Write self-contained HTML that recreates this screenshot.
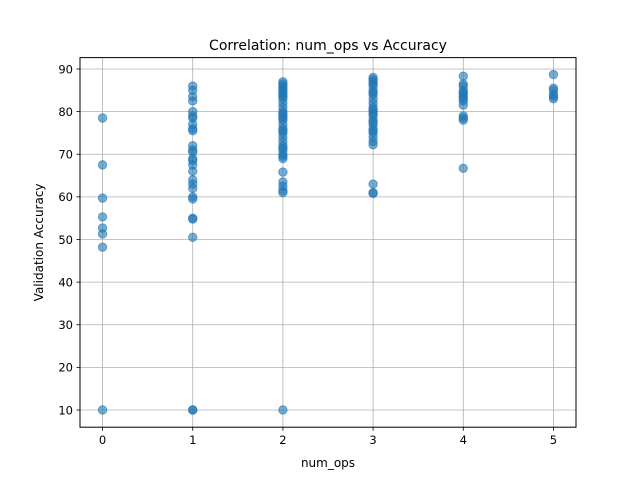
<!DOCTYPE html>
<html><head><meta charset="utf-8"><style>body{margin:0;background:#fff}svg{font-family:"DejaVu Sans","Liberation Sans",sans-serif}</style></head>
<body>
<svg id="chart" width="640" height="480" viewBox="0 0 640 480" xmlns="http://www.w3.org/2000/svg">
<rect width="640" height="480" fill="#fff"/>
<g id="grid"></g>
<g id="points"></g>
<rect x="80" y="57.6" width="496" height="369.6" fill="none" stroke="#000" stroke-width="1"/>
<g id="ticks" font-size="11.5" fill="#000"></g>
<text x="328" y="50" text-anchor="middle" font-size="14">Correlation: num_ops vs Accuracy</text>
<text x="328" y="467" text-anchor="middle" font-size="12">num_ops</text>
<text transform="translate(43,242.4) rotate(-90)" text-anchor="middle" font-size="12">Validation Accuracy</text>
</svg>
<script>
const xTicks=[0,1,2,3,4,5];
const yTicks=[10,20,30,40,50,60,70,80,90];
const ops0=[78.5,67.5,59.7,55.3,52.7,51.3,48.2,10];
const ops1=[86,85,83.5,82.5,80,79,78.5,77,76,75.5,72,71,70.5,69,68.5,67.5,66,64,63,62,60,59.5,55,54.8,50.5,10,10];
const ops2=[87,86.5,86,85.5,85,84.5,84,83.5,83,82,81,80,79.5,79,78.5,78,77,76,75.5,75,74,73,72,71.5,71,70,69.5,69,65.8,63.5,62.5,61.5,61,10];
const ops3=[88,87.5,87,86.5,86,85,84.5,84,83,82,81,80.5,80,79.5,79,78,77.5,77,76,75.5,75,74,73,72.2,63,61,60.8];
const ops4=[88.3,86.5,86,85,84.5,84,83.5,83,82.5,81.5,79,78.5,78,66.7];
const ops5=[88.7,85.5,85,84,83.5,83];
const series=[ops0,ops1,ops2,ops3,ops4,ops5];
const NS="http://www.w3.org/2000/svg";
const L=80,R=576,T=57.6,B=427.2;
const xMin=-0.25,xMax=5.25,yMin=5.96,yMax=92.67;
const sx=v=>L+(v-xMin)/(xMax-xMin)*(R-L);
const sy=v=>B-(v-yMin)/(yMax-yMin)*(B-T);
function mk(tag,attrs,parent){const e=document.createElementNS(NS,tag);for(const k in attrs)e.setAttribute(k,attrs[k]);parent.appendChild(e);return e;}
const grid=document.getElementById('grid'),ticks=document.getElementById('ticks'),pts=document.getElementById('points');
xTicks.forEach(t=>{const x=sx(t);
 const g=mk('line',{x1:x,x2:x,y1:T,y2:B,stroke:'#b0b0b0','stroke-width':0.8},grid);
 
 
 mk('line',{x1:x,x2:x,y1:B,y2:B+3.5,stroke:'#000','stroke-width':0.8},ticks);
 const tx=mk('text',{x:x,y:B+17,'text-anchor':'middle'},ticks);tx.textContent=t;
 
 
});
yTicks.forEach(t=>{const y=sy(t);
 const g=mk('line',{x1:L,x2:R,y1:y,y2:y,stroke:'#b0b0b0','stroke-width':0.8},grid);
 
 
 mk('line',{x1:L-3.5,x2:L,y1:y,y2:y,stroke:'#000','stroke-width':0.8},ticks);
 const tx=mk('text',{x:L-7,y:y+4.3,'text-anchor':'end'},ticks);tx.textContent=t;
 
 
});
series.forEach((vals,i)=>vals.forEach(v=>{
 const c=mk('circle',{cx:sx(xTicks[i]),cy:sy(v),r:4.2,fill:'#1f77b4','fill-opacity':0.6,stroke:'#1f77b4','stroke-opacity':0.6,'stroke-width':1},pts);
 
 
}));
</script>
</body></html>
